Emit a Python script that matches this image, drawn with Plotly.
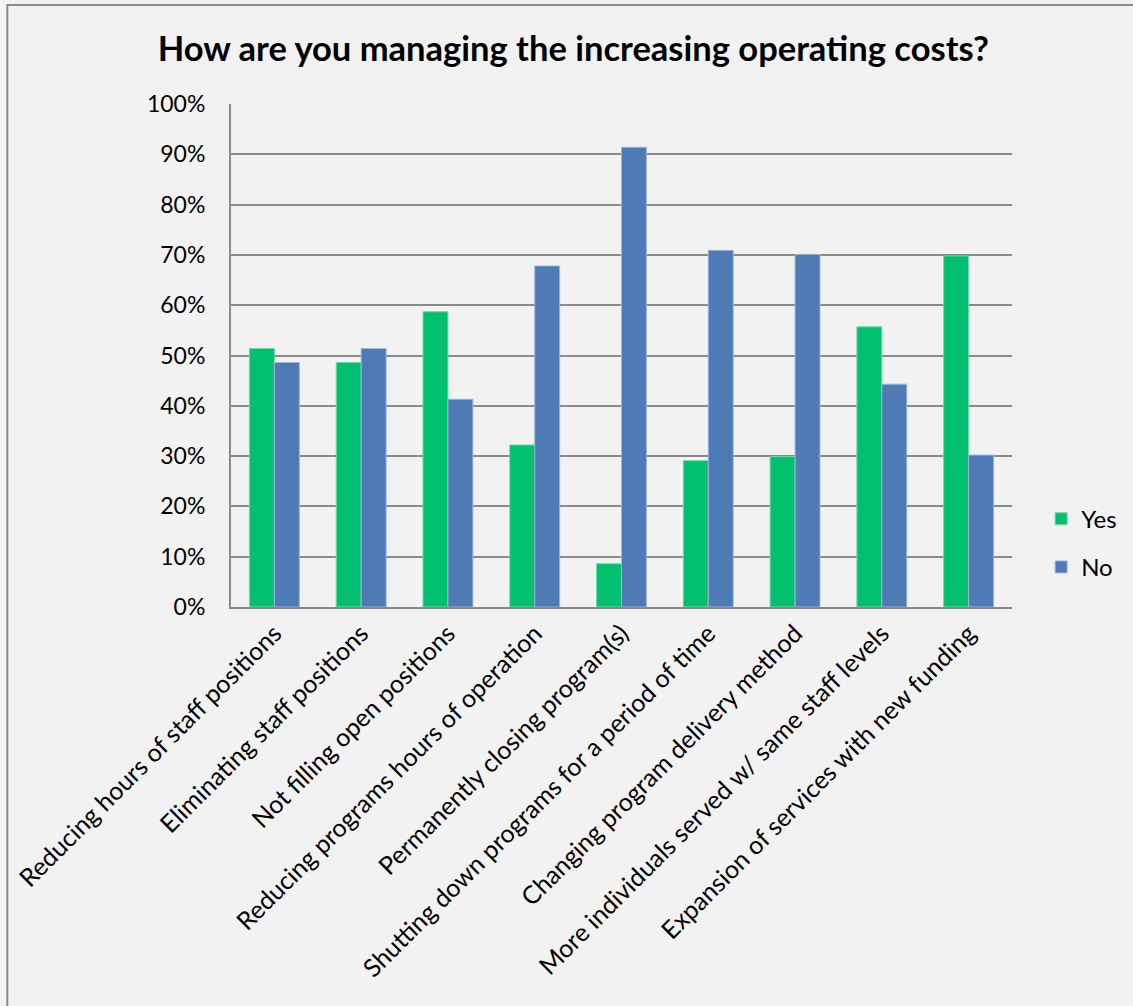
import plotly.graph_objects as go

# Survey responses: share of organisations answering Yes / No per cost-management measure
categories = [
    "Reducing hours of staff positions",
    "Eliminating staff positions",
    "Not filling open positions",
    "Reducing programs hours of operation",
    "Permanently closing program(s)",
    "Shutting down programs for a period of time",
    "Changing program delivery method",
    "More individuals served w/ same staff levels",
    "Expansion of services with new funding",
]
yes_share = [51.4, 48.6, 58.7, 32.2, 8.6, 29.1, 29.9, 55.7, 69.8]
no_share = [48.6, 51.4, 41.3, 67.8, 91.4, 70.9, 70.1, 44.3, 30.2]
y_ticks = [0, 10, 20, 30, 40, 50, 60, 70, 80, 90, 100]
y_tick_text = [f"{v}%" for v in y_ticks]

FONT = "Lato"
GREEN = "#00bf6f"
BLUE = "#4e7bb5"
GRID = "#8a8a8a"

fig = go.Figure()
fig.add_trace(go.Bar(
    x=categories, y=yes_share, name="Yes", legendgroup="yes",
    marker=dict(color=GREEN, line=dict(color="#6fd9a8", width=1)),
))
fig.add_trace(go.Bar(
    x=categories, y=no_share, name="No", legendgroup="no",
    marker=dict(color=BLUE, line=dict(color="#9db6d8", width=1)),
))

fig.update_layout(
    width=1133, height=1006,
    margin=dict(l=231, r=120, t=104, b=399),
    paper_bgcolor="#f2f2f2", plot_bgcolor="#f2f2f2",
    font=dict(family=FONT, size=23, color="#000000"),
    title=dict(
        text="<b>How are you managing the increasing operating costs?</b>",
        x=0.506, xref="container", xanchor="center",
        y=0.951, yref="container", yanchor="middle",
        font=dict(family=FONT, size=34.5, color="#000000"),
    ),
    barmode="group", bargap=0.425, bargroupgap=0,
    showlegend=True,
    legend=dict(
        x=1.036, xanchor="left", y=0.127, yanchor="middle",
        font=dict(family=FONT, size=24), tracegroupgap=14,
        bgcolor="rgba(0,0,0,0)", itemwidth=30,
    ),
    xaxis=dict(
        tickangle=-45, showgrid=False, showline=True, linecolor=GRID,
        linewidth=2, ticks="", tickfont=dict(family=FONT, size=25),
        range=[-0.5, 8.5],
    ),
    yaxis=dict(
        range=[0, 100], tickvals=y_ticks, ticktext=y_tick_text,
        showgrid=True, gridcolor=GRID, gridwidth=2,
        showline=True, linecolor=GRID, linewidth=2,
        ticks="", ticklabelstandoff=19, zeroline=False,
        tickfont=dict(family=FONT, size=23),
    ),
    shapes=[dict(
        type="rect", xref="paper", yref="paper",
        x0=-0.2864, y0=-1.2, x1=1.4, y1=1.1968,
        line=dict(color="#8a8a8a", width=2), fillcolor="rgba(0,0,0,0)",
        layer="below",
    )],
)

fig.write_html("out.html")
